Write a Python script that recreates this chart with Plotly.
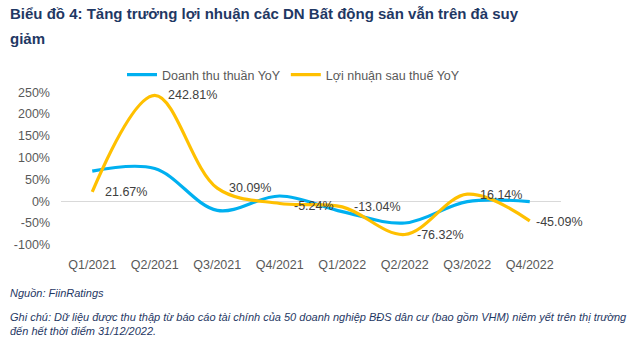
import plotly.graph_objects as go

quarters = ["Q1/2021", "Q2/2021", "Q3/2021", "Q4/2021", "Q1/2022", "Q2/2022", "Q3/2022", "Q4/2022"]
revenue_yoy = [69, 75, -21, 12, -24, -50, -1, -1]
profit_yoy = [21.67, 242.81, 30.09, -5.24, -13.04, -76.32, 16.14, -45.09]
profit_labels = ["21.67%", "242.81%", "30.09%", "-5.24%", "-13.04%", "-76.32%", "16.14%", "-45.09%"]
y_tick_values = [-100, -50, 0, 50, 100, 150, 200, 250]
y_tick_labels = ["-100%", "-50%", "0%", "50%", "100%", "150%", "200%", "250%"]

W, H = 640, 353
L, R, T, B = 61, 561, 90, 247

def px(x):
    return (x - L) / (R - L)

def py(y):
    return (B - y) / (B - T)

fig = go.Figure()
fig.add_trace(go.Scatter(x=quarters, y=revenue_yoy, mode="lines", name="Doanh thu thuần YoY",
                         line=dict(color="#00B0F0", width=3.2, shape="spline", smoothing=1.0)))
fig.add_trace(go.Scatter(x=quarters, y=profit_yoy, mode="lines", name="Lợi nhuận sau thuế YoY",
                         line=dict(color="#FFC000", width=3.2, shape="spline", smoothing=1.0)))

label_shifts = [(11, 0), (11, 0), (10, 0), (12, -3), (10, 0), (10, -1), (11, -1), (4, -1)]
annotations = []
for q, v, t, (dx, dy) in zip(quarters, profit_yoy, profit_labels, label_shifts):
    annotations.append(dict(x=q, y=v, xref="x", yref="y", text=t, showarrow=False,
                            xanchor="left", yanchor="middle", xshift=dx, yshift=dy,
                            font=dict(family="Liberation Sans, Arial", size=12.5, color="#404040")))

title_font = dict(family="Liberation Sans, Arial", size=15, color="#1F3864")
annotations.append(dict(text="<b>Biểu đồ 4: Tăng trưởng lợi nhuận các DN Bất động sản vẫn trên đà suy</b>",
                        xref="paper", yref="paper", x=px(8), y=py(13), xanchor="left", yanchor="middle",
                        showarrow=False, font=title_font))
annotations.append(dict(text="<b>giảm</b>",
                        xref="paper", yref="paper", x=px(8), y=py(38), xanchor="left", yanchor="middle",
                        showarrow=False, font=title_font))
foot_font = dict(family="Liberation Sans, Arial", size=11, color="#1F3864")
annotations.append(dict(text="<i>Nguồn: FiinRatings</i>",
                        xref="paper", yref="paper", x=px(8), y=py(293), xanchor="left", yanchor="middle",
                        showarrow=False, font=foot_font))
annotations.append(dict(text="<i>Ghi chú: Dữ liệu được thu thập từ báo cáo tài chính của 50 doanh nghiệp BĐS dân cư (bao gồm VHM) niêm yết trên thị trường<br>đến hết thời điểm 31/12/2022.</i>",
                        xref="paper", yref="paper", x=px(8), y=py(309), xanchor="left", yanchor="top",
                        align="left", showarrow=False, font=foot_font))

fig.update_layout(
    width=W, height=H,
    margin=dict(l=L, r=W - R, t=T, b=H - B),
    paper_bgcolor="white", plot_bgcolor="white",
    font=dict(family="Liberation Sans, Arial", size=12.5, color="#595959"),
    showlegend=True,
    legend=dict(orientation="h", x=px(122), y=py(75), xanchor="left", yanchor="middle",
                font=dict(size=12.5, color="#595959"), itemwidth=30, bgcolor="rgba(0,0,0,0)"),
    annotations=annotations,
    xaxis=dict(type="category", range=[-0.5, 7.5], showgrid=False, showline=False, zeroline=False,
               ticks="", ticklabelstandoff=8, tickfont=dict(size=12.5, color="#595959")),
    yaxis=dict(range=[-105, 255], tickmode="array", tickvals=y_tick_values, ticktext=y_tick_labels,
               showgrid=False, zeroline=True, zerolinecolor="#D9D9D9", zerolinewidth=1,
               showline=False, ticks="", ticklabelstandoff=10, tickfont=dict(size=12.5, color="#595959")),
)

fig.write_html("out.html")
